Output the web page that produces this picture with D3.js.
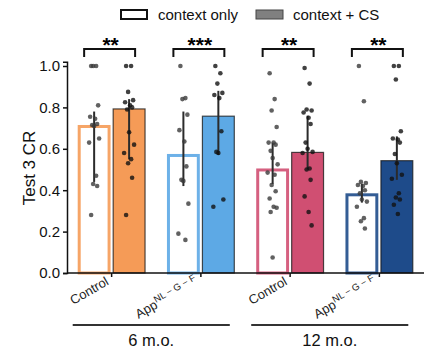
<!DOCTYPE html>
<html>
<head>
<meta charset="utf-8">
<script src="https://cdn.jsdelivr.net/npm/d3@7"></script>
<style>
  body { margin: 0; background: #fff; }
  svg { font-family: "Liberation Sans", Arial, sans-serif; display: block; }
</style>
</head>
<body>
<div id="chart"></div>
<script>
// data
const groups = ['c6', 'a6', 'c12', 'a12'];
const groupLabels = ['Control', 'App', 'Control', 'App'];
const colors = ['#f59b57', '#5da9e5', '#d04f72', '#1e4b8a'];
const stars = ['**', '***', '**', '**'];
const meanOpen = [0.715, 0.575, 0.505, 0.385];
const meanCS = [0.795, 0.76, 0.585, 0.545];
const errOpen = [[0.44, 0.78], [0.42, 0.78], [0.43, 0.63], [0.34, 0.43]];
const errCS = [[0.55, 0.84], [0.57, 0.88], [0.50, 0.76], [0.45, 0.66]];
const ptsOpen = [
    [1.0, 1.0, 1.0, 0.81, 0.755, 0.745, 0.72, 0.715, 0.71, 0.65, 0.63, 0.47, 0.43, 0.42, 0.28],
    [1.0, 0.845, 0.84, 0.765, 0.69, 0.635, 0.515, 0.45, 0.445, 0.335, 0.19, 0.16],
    [0.965, 0.84, 0.785, 0.705, 0.63, 0.63, 0.62, 0.59, 0.555, 0.525, 0.485, 0.475, 0.425, 0.395, 0.36, 0.32, 0.315, 0.295, 0.075],
    [1.0, 0.83, 0.44, 0.435, 0.425, 0.42, 0.40, 0.385, 0.355, 0.345, 0.32, 0.265, 0.25, 0.215]
];
const ptsCS = [
    [1.0, 1.0, 0.875, 0.835, 0.825, 0.81, 0.80, 0.79, 0.68, 0.62, 0.58, 0.55, 0.53, 0.46, 0.28],
    [1.0, 0.965, 0.915, 0.87, 0.86, 0.845, 0.685, 0.585, 0.58, 0.355, 0.32],
    [0.99, 0.915, 0.79, 0.785, 0.775, 0.75, 0.72, 0.63, 0.6, 0.585, 0.58, 0.505, 0.5, 0.45, 0.37, 0.295, 0.23],
    [1.0, 1.0, 0.935, 0.685, 0.65, 0.645, 0.63, 0.575, 0.53, 0.475, 0.455, 0.385, 0.365, 0.355, 0.33, 0.285]
];
const ages = [{ label: '6 m.o.', from: 'c6', to: 'a6' }, { label: '12 m.o.', from: 'c12', to: 'a12' }];
const yTicks = [0, 0.2, 0.4, 0.6, 0.8, 1.0];

const width = 435, height = 354;
const svg = d3.select('#chart').append('svg')
    .attr('width', width)
    .attr('height', height);

// scales
const xScale = d3.scaleBand().domain(groups).range([67, 424])
    .paddingInner(0.24).paddingOuter(0.12);
const xSub = d3.scaleBand().domain(['open', 'cs']).range([0, xScale.bandwidth()])
    .paddingInner(0.06);
const yScale = d3.scaleLinear().domain([0, 1.02]).range([273, 273 - 1.02 * 207]);

// jitter pattern (px) for scatter dots
const jit = [-3, 2, -1, 4, -4, 1, 3, -2, 0, 5, -5, 2, -1, 3, -3, 1, 4, -2, 0];

// bars
groups.forEach((gname, i) => {
    const x0 = xScale(gname);
    const g = svg.append('g');
    const bw = xSub.bandwidth();

    // open bar
    g.append('rect')
        .attr('x', x0 + xSub('open') + 1.5)
        .attr('y', yScale(meanOpen[i]) + 1.5)
        .attr('width', bw - 3)
        .attr('height', yScale(0) - yScale(meanOpen[i]) - 1.5)
        .style('fill', '#fff')
        .style('stroke', colors[i])
        .style('stroke-opacity', 0.9)
        .style('stroke-width', 3);

    // filled bar
    g.append('rect')
        .attr('x', x0 + xSub('cs') + 0.5)
        .attr('y', yScale(meanCS[i]) + 0.5)
        .attr('width', bw - 1)
        .attr('height', yScale(0) - yScale(meanCS[i]) - 0.5)
        .style('fill', colors[i])
        .style('stroke', 'rgba(20,20,20,0.75)')
        .style('stroke-width', 1.2);

    // error bars
    [['open', errOpen[i]], ['cs', errCS[i]]].forEach(([k, e]) => {
        const cx = x0 + xSub(k) + bw / 2;
        g.append('line')
            .attr('x1', cx).attr('x2', cx)
            .attr('y1', yScale(e[0])).attr('y2', yScale(e[1]))
            .style('stroke', '#2b2b2b')
            .style('stroke-width', 2);
    });

    // points
    [['open', ptsOpen[i]], ['cs', ptsCS[i]]].forEach(([k, pts]) => {
        const cx = x0 + xSub(k) + bw / 2;
        g.selectAll('.pt-' + k)
            .data(pts)
            .enter()
            .append('circle')
            .attr('class', 'pt-' + k)
            .attr('cx', (d, j) => cx + jit[j % jit.length])
            .attr('cy', d => yScale(d))
            .attr('r', 2.3)
            .style('fill', k === 'open' ? '#3a3a3a' : '#111')
            .style('opacity', 0.8);
    });

    // significance bracket
    const oc = x0 + xSub('open') + bw / 2;
    const cc = x0 + xSub('cs') + bw / 2;
    const bx1 = oc - 10, bx2 = cc + 6;
    svg.append('path')
        .attr('d', `M${bx1},57 V49 H${bx2} V57`)
        .style('fill', 'none')
        .style('stroke', '#111')
        .style('stroke-width', 2);
    svg.append('text')
        .attr('x', x0 + xScale.bandwidth() / 2 - 1)
        .attr('y', 52)
        .attr('text-anchor', 'middle')
        .style('font-size', '21px')
        .style('font-weight', 'bold')
        .text(stars[i]);
});

// y axis
const yAxis = svg.append('g')
    .attr('transform', 'translate(67,0)')
    .call(d3.axisLeft(yScale).tickValues(yTicks).tickFormat(d3.format('.1f')).tickSize(4).tickPadding(3));
yAxis.select('.domain').style('stroke', '#111').style('stroke-width', 1.5);
yAxis.selectAll('.tick line').style('stroke', '#111').style('stroke-width', 1.5);
yAxis.selectAll('.tick text').style('font-size', '15px').style('fill', '#111')
    .style('font-family', '"Liberation Sans", Arial, sans-serif');

svg.append('text')
    .attr('transform', 'translate(35,168) rotate(-90)')
    .attr('text-anchor', 'middle')
    .style('font-size', '17px')
    .style('fill', '#111')
    .text('Test 3 CR');

// x axis
const xAxis = svg.append('g')
    .attr('transform', 'translate(0,273)')
    .call(d3.axisBottom(xScale).tickSize(4).tickFormat(''));
xAxis.select('.domain').attr('d', 'M67,0H424').style('stroke', '#111').style('stroke-width', 1.5);
xAxis.selectAll('.tick line').style('stroke', '#111').style('stroke-width', 1.5);

// rotated group labels
groups.forEach((gname, i) => {
    const cx = xScale(gname) + xScale.bandwidth() / 2;
    const t = svg.append('text')
        .attr('transform', `translate(${cx - 2},${284}) rotate(-30)`)
        .attr('text-anchor', 'end')
        .style('font-size', '13px')
        .style('fill', '#222')
        .text(groupLabels[i]);
    if (groupLabels[i] === 'App') {
        t.append('tspan')
            .attr('baseline-shift', 'super')
            .style('font-size', '9.5px')
            .text('NL \u2212 G \u2212 F');
    }
});

// age lines
ages.forEach(a => {
    const x1 = xScale(a.from) - 5;
    const x2 = xScale(a.to) + xScale.bandwidth() - 5;
    svg.append('line')
        .attr('x1', x1).attr('x2', x2)
        .attr('y1', 325).attr('y2', 325)
        .style('stroke', '#333')
        .style('stroke-width', 2);
    svg.append('text')
        .attr('x', (x1 + x2) / 2)
        .attr('y', 346)
        .attr('text-anchor', 'middle')
        .style('font-size', '16.5px')
        .style('fill', '#111')
        .text(a.label);
});

// legend
const legend = svg.append('g');
legend.append('rect')
    .attr('x', 121).attr('y', 10).attr('width', 26).attr('height', 9)
    .style('fill', '#fff').style('stroke', '#111').style('stroke-width', 2);
legend.append('text')
    .attr('x', 158).attr('y', 20)
    .style('font-size', '15px').style('fill', '#111')
    .text('context only');
legend.append('rect')
    .attr('x', 256).attr('y', 10).attr('width', 27).attr('height', 9)
    .style('fill', '#808080').style('stroke', '#444').style('stroke-width', 1);
legend.append('text')
    .attr('x', 293).attr('y', 20)
    .style('font-size', '15px').style('fill', '#111')
    .text('context + CS');
</script>
</body>
</html>
